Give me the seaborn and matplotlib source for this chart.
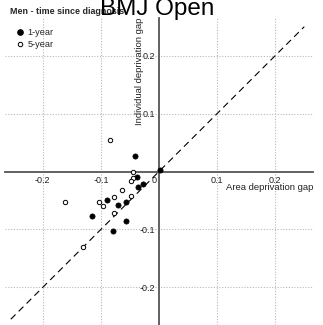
import matplotlib
matplotlib.use("Agg")
import matplotlib.pyplot as plt
from matplotlib.transforms import ScaledTranslation
from matplotlib.lines import Line2D
import seaborn as sns
import pandas as pd

# Area vs individual deprivation gap, men, by time since diagnosis
area_1yr = [-0.041, 0.002, -0.038, -0.036, -0.027, -0.089, -0.071, -0.057, -0.116, -0.056, -0.079]
indiv_1yr = [0.026, 0.002, -0.009, -0.027, -0.021, -0.050, -0.058, -0.053, -0.077, -0.086, -0.102]
area_5yr = [-0.084, -0.045, -0.045, -0.049, -0.064, -0.077, -0.103, -0.096, -0.162, -0.048, -0.077, -0.131]
indiv_5yr = [0.054, 0.000, -0.011, -0.016, -0.032, -0.044, -0.052, -0.060, -0.053, -0.043, -0.072, -0.130]
ticks = [-0.2, -0.1, 0.1, 0.2]
xtick_labels = ["-0.2", "-0.1", "0.1", "0.2"]
ytick_labels = ["-0.2", "-0.1", "0.1", "0.2"]
series_labels = ["1-year", "5-year"]

df1 = pd.DataFrame({"area": area_1yr, "indiv": indiv_1yr})
df5 = pd.DataFrame({"area": area_5yr, "indiv": indiv_5yr})

sns.set_style("white")
plt.rcParams["font.family"] = ["Liberation Sans", "DejaVu Sans"]

fig = plt.figure(figsize=(3.23, 3.25), dpi=100)
ax = fig.add_axes([5 / 323, 0.0, 308 / 323, 307 / 325])
lim = 0.265
ax.set_xlim(-lim, lim)
ax.set_ylim(-lim, lim)

# dotted reference grid
for t in ticks:
    ax.axvline(t, color="#b8b8b8", lw=0.8, ls=(0, (1, 1.5)), zorder=0)
    ax.axhline(t, color="#b8b8b8", lw=0.8, ls=(0, (1, 1.5)), zorder=0)

# line of equality
ax.plot([-0.255, 0.25], [-0.255, 0.25], color="black", lw=0.8, ls=(0, (6, 4)), zorder=1)

sns.scatterplot(data=df1, x="area", y="indiv", ax=ax, color="black", marker="o",
                s=14, edgecolor="black", linewidth=0.5, zorder=3)
sns.scatterplot(data=df5, x="area", y="indiv", ax=ax, facecolor="white", marker="o",
                s=10, edgecolor="black", linewidth=0.7, zorder=3)

# axes crossing at the origin
for side in ["top", "right"]:
    ax.spines[side].set_visible(False)
for side in ["left", "bottom"]:
    ax.spines[side].set_position(("data", 0))
    ax.spines[side].set_color("#555555")
    ax.spines[side].set_linewidth(1.3)
    ax.spines[side].set_zorder(2)

ax.set_xticks([-0.2, -0.1, 0, 0.1, 0.2])
ax.set_xticklabels(["-0.2", "-0.1", "0", "0.1", "0.2"])
ax.set_yticks(ticks)
ax.set_yticklabels(ytick_labels)
ax.tick_params(axis="both", length=0, labelsize=6.5, colors="#222222")
ax.tick_params(axis="x", pad=3.5)
ax.tick_params(axis="y", pad=3)
zero_lab = ax.get_xticklabels()[2]
zero_lab.set_transform(zero_lab.get_transform() + ScaledTranslation(-5 / 100, 0, fig.dpi_scale_trans))
ax.set_xlabel("")
ax.set_ylabel("")

ax.text(1.0, 0.5 - 16 / 307, "Area deprivation gap", transform=ax.transAxes,
        ha="right", va="center", fontsize=6.8, color="#222222")
ax.text(0.5 - 20 / 308, 1.0, "Individual deprivation gap", transform=ax.transAxes,
        rotation=90, ha="center", va="top", fontsize=6.8, color="#222222")

handles = [
    Line2D([], [], ls="", marker="o", markersize=3.8, markerfacecolor="black", markeredgecolor="black"),
    Line2D([], [], ls="", marker="o", markersize=3.2, markerfacecolor="white", markeredgecolor="black", markeredgewidth=0.7),
]
fig.legend(handles, series_labels, loc="upper left", bbox_to_anchor=(15 / 323, 1 - 28 / 325),
           frameon=False, fontsize=6.6, handlelength=1.0, handletextpad=0.4,
           labelspacing=0.3, borderpad=0, borderaxespad=0)

fig.text(10 / 323, 1 - 11 / 325, "Men - time since diagnosis", fontsize=6.4,
         fontweight="bold", ha="left", va="center")
fig.text(157.5 / 323, 1 - 15 / 325, "BMJ Open", fontsize=17.5, ha="center",
         va="baseline", color="black")

fig.savefig("out.png", dpi=100)
